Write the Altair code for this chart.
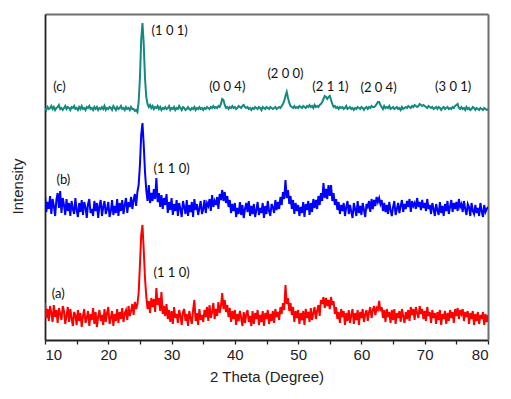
import altair as alt
import pandas as pd

# 2-theta sampling grid: 10.0 .. 80.0, step 0.2
THETA_START = 10.0
THETA_STEP = 0.2

# (c) teal trace, intensity (arbitrary units)
c_vals = [
    232, 230, 233, 231, 232,  234, 231, 233, 230, 232,  233, 235, 231, 232, 230,
    232, 234, 231, 233, 232,  230, 233, 232, 234, 231,  232, 230, 233, 231, 234,
    231, 232, 230, 233, 232,  234, 231, 232, 230, 233,  231, 233, 230, 232, 231,
    233, 231, 234, 230, 232,  231, 233, 232, 230, 234,  232, 230, 233, 231, 232,
    234, 231, 232, 230, 233,  231, 232, 230, 233, 231,  231, 229, 230, 228, 238,
    262, 300, 317, 296, 262,  243, 236, 233, 235, 232,  234, 231, 233, 232, 234,
    231, 233, 230, 232, 231,  233, 231, 232, 234, 230,  232, 231, 233, 230, 232,
    231, 234, 232, 230, 233,  232, 230, 231, 233, 231,  230, 232, 231, 233, 230,
    232, 231, 233, 231, 232,  230, 232, 231, 233, 232,  231, 233, 232, 234, 232,
    233, 232, 234, 233, 236,  241, 240, 235, 232, 233,  231, 233, 232, 234, 232,
    233, 231, 232, 234, 233,  232, 234, 235, 233, 232,  233, 231, 232, 230, 232,
    231, 233, 232, 231, 233,  232, 230, 233, 232, 231,  233, 232, 231, 233, 232,
    231, 232, 233, 231, 232,  233, 232, 234, 236, 239,  244, 248, 242, 237, 234,
    233, 232, 234, 232, 233,  232, 234, 233, 232, 234,  233, 232, 234, 233, 235,
    233, 234, 232, 235, 233,  234, 233, 235, 236, 238,  241, 244, 243, 241, 243,
    244, 240, 236, 233, 234,  232, 233, 231, 233, 232,  233, 231, 232, 234, 231,
    232, 233, 231, 232, 230,  232, 231, 233, 232, 231,  233, 232, 230, 232, 233,
    231, 233, 232, 234, 233,  233, 234, 236, 238, 238,  235, 233, 231, 234, 232,
    233, 232, 234, 231, 232,  233, 231, 232, 233, 231,  232, 230, 233, 231, 232,
    233, 232, 234, 233, 232,  234, 233, 235, 234, 233,  234, 236, 235, 234, 235,
    234, 233, 232, 234, 233,  232, 233, 231, 232, 233,  231, 233, 232, 230, 232,
    233, 231, 232, 233, 231,  232, 231, 233, 232, 234,  235, 236, 232, 231, 233,
    231, 232, 230, 233, 231,  232, 230, 231, 233, 232,  230, 232, 231, 230, 232,
    231, 230, 232, 231, 230,  231,
]

# (b) blue trace
b_vals = [
    145, 128, 138, 131, 144,  126, 141, 134, 124, 140,  147, 132, 149, 127, 142,
    135, 125, 141, 129, 137,  124, 139, 131, 126, 142,  130, 123, 137, 128, 140,
    125, 138, 133, 122, 136,  141, 127, 131, 124, 139,  129, 137, 122, 134, 140,
    124, 133, 139, 126, 131,  138, 123, 129, 140, 125,  134, 127, 141, 124, 137,
    129, 140, 126, 135, 142,  127, 138, 133, 143, 131,  140, 146, 134, 148, 155,
    175, 205, 217, 195, 168,  150, 139, 155, 137, 147,  139, 151, 141, 162, 138,
    147, 133, 145, 131, 142,  135, 146, 127, 138, 130,  142, 125, 136, 129, 140,
    124, 137, 131, 123, 139,  133, 126, 140, 124, 135,  128, 138, 123, 141, 130,
    136, 125, 132, 139, 126,  131, 140, 127, 137, 134,  141, 129, 145, 133, 139,
    135, 143, 131, 146, 140,  150, 139, 148, 137, 144,  133, 140, 127, 136, 129,
    137, 123, 132, 126, 138,  125, 135, 122, 131, 137,  128, 139, 124, 134, 126,
    136, 123, 130, 138, 125,  132, 127, 137, 122, 134,  126, 139, 129, 124, 136,
    133, 127, 140, 130, 138,  131, 143, 135, 148, 141,  160, 142, 150, 136, 144,
    131, 140, 126, 137, 129,  135, 124, 133, 127, 138,  123, 136, 130, 139, 125,
    137, 128, 141, 132, 140,  131, 144, 135, 147, 139,  157, 142, 151, 141, 155,
    144, 155, 139, 147, 135,  141, 130, 138, 126, 135,  129, 137, 124, 133, 139,
    126, 135, 128, 122, 137,  131, 124, 139, 127, 134,  125, 137, 130, 123, 136,
    133, 139, 128, 141, 131,  140, 134, 143, 138, 142,  136, 140, 129, 137, 128,
    135, 126, 138, 130, 124,  133, 139, 125, 131, 137,  127, 134, 140, 128, 136,
    131, 139, 133, 141, 128,  139, 134, 137, 131, 142,  133, 138, 130, 140, 132,
    137, 129, 141, 131, 135,  126, 137, 131, 124, 136,  130, 125, 138, 127, 134,
    124, 136, 129, 139, 126,  133, 140, 128, 137, 131,  138, 129, 141, 133, 136,
    128, 139, 131, 125, 136,  133, 124, 137, 129, 126,  135, 127, 132, 124, 137,
    129, 123, 135, 128, 131,  133,
]

# (a) red trace
a_vals = [
    37, 22, 31, 19, 34,  27, 18, 35, 23, 30,  17, 32, 26, 20, 34,
    29, 16, 24, 33, 18,  31, 22, 14, 28, 25,  15, 30, 19, 27, 13,
    24, 31, 17, 22, 29,  14, 26, 20, 32, 16,  28, 13, 23, 30, 19,
    25, 15, 31, 18, 27,  33, 16, 22, 29, 14,  26, 19, 31, 17, 28,
    21, 32, 18, 27, 30,  20, 34, 24, 29, 36,  25, 38, 31, 36, 47,
    75, 105, 115, 90, 62,  44, 31, 39, 27, 42,  33, 41, 28, 52, 35,
    42, 29, 48, 26, 34,  24, 36, 21, 30, 18,  29, 16, 33, 22, 26,
    17, 30, 24, 15, 28,  31, 19, 26, 14, 29,  22, 16, 30, 40, 19,
    27, 15, 31, 20, 25,  18, 30, 23, 33, 19,  35, 22, 28, 37, 21,
    31, 24, 38, 27, 34,  47, 31, 40, 28, 35,  23, 32, 18, 29, 21,
    30, 15, 26, 19, 29,  22, 14, 28, 17, 26,  30, 18, 24, 14, 29,
    16, 27, 21, 30, 15,  25, 18, 29, 14, 27,  21, 30, 16, 26, 19,
    29, 17, 31, 23, 28,  20, 33, 26, 37, 30,  55, 36, 42, 29, 37,
    25, 33, 18, 29, 22,  30, 16, 27, 20, 29,  15, 31, 22, 28, 18,
    32, 20, 27, 33, 21,  29, 35, 24, 40, 36,  43, 32, 42, 34, 40,
    31, 43, 35, 39, 26,  33, 21, 28, 17, 31,  23, 29, 15, 27, 19,
    30, 17, 25, 31, 16,  27, 20, 30, 15, 28,  22, 31, 18, 26, 30,
    19, 28, 33, 22, 30,  34, 25, 32, 30, 39,  29, 33, 22, 30, 18,
    31, 23, 28, 17, 30,  20, 31, 16, 27, 22,  29, 18, 31, 24, 17,
    28, 21, 30, 19, 33,  25, 31, 20, 33, 27,  22, 34, 26, 31, 21,
    29, 19, 33, 24, 28,  17, 30, 22, 27, 16,  28, 20, 30, 15, 26,
    21, 29, 16, 27, 19,  30, 22, 28, 17, 31,  24, 32, 21, 30, 26,
    31, 19, 28, 23, 29,  16, 27, 21, 29, 15,  26, 19, 28, 16, 25,
    21, 28, 15, 26, 18,  25,
]

series_names = ["c", "b", "a"]
series_colors = ["#13897f", "#0000ff", "#ff0000"]

# annotations
ann_text = ["(c)", "(1 0 1)", "(0 0 4)", "(2 0 0)", "(2 1 1)", "(2 0 4)", "(3 0 1)",
            "(b)", "(1 1 0)", "(a)", "(1 1 0)"]
ann_x = [12.3, 29.7, 38.8, 48.0, 55.1, 62.7, 74.5, 12.9, 30.0, 12.1, 30.0]
ann_y = [253, 309, 253, 266, 253, 252, 253, 160, 171, 46, 67]

x_ticks = [10, 15, 20, 25, 30, 35, 40, 45, 50, 55, 60, 65, 70, 75, 80]
X_DOMAIN = [10, 80]
Y_DOMAIN = [0, 326]

W, H = 443, 326

rows = []
for name, vals in zip(series_names, [c_vals, b_vals, a_vals]):
    for i, v in enumerate(vals):
        rows.append({"theta": round(THETA_START + THETA_STEP * i, 1), "intensity": v, "series": name})
df = pd.DataFrame(rows)
ann = pd.DataFrame({"label": ann_text, "theta": ann_x, "intensity": ann_y})

xscale = alt.Scale(domain=X_DOMAIN, nice=False, zero=False)
yscale = alt.Scale(domain=Y_DOMAIN, nice=False, zero=False)

lines = alt.Chart(df).mark_line(strokeWidth=2.0, clip=True).encode(
    x=alt.X("theta:Q", scale=xscale,
            axis=alt.Axis(title="2 Theta (Degree)", values=x_ticks,
                          labelExpr="datum.value % 10 == 0 ? datum.label : ''",
                          grid=False, tickSize=4, tickColor="#222", tickWidth=1.3,
                          domainColor="#222", domainWidth=1.8,
                          labelFont="Liberation Sans", labelFontSize=15, labelColor="#222",
                          labelPadding=3, titleFont="Liberation Sans", titleFontSize=15,
                          titleFontWeight="normal", titleColor="#222", titlePadding=7)),
    y=alt.Y("intensity:Q", scale=yscale,
            axis=alt.Axis(title="Intensity", labels=False, ticks=False, grid=False,
                          domainColor="#222", domainWidth=1.8,
                          titleFont="Liberation Sans", titleFontSize=15,
                          titleFontWeight="normal", titleColor="#222",
                          titleAngle=270, titleAlign="center", titleBaseline="middle",
                          titleX=-28, titleY=172)),
    color=alt.Color("series:N", scale=alt.Scale(domain=series_names, range=series_colors), legend=None),
    detail="series:N",
)

labels = alt.Chart(ann).mark_text(font="Lato", fontSize=13, color="#111",
                                  align="center", baseline="middle").encode(
    x=alt.X("theta:Q", scale=xscale, axis=None),
    y=alt.Y("intensity:Q", scale=yscale, axis=None),
    text="label:N",
)

# invisible layer that only carries the gray top and right frame axes
frame = alt.Chart(ann).mark_point(opacity=0).encode(
    x=alt.X("theta:Q", scale=xscale,
            axis=alt.Axis(orient="top", title=None, labels=False, ticks=False, grid=False,
                          domainColor="#6f6f6f", domainWidth=2)),
    y=alt.Y("intensity:Q", scale=yscale,
            axis=alt.Axis(orient="right", title=None, labels=False, ticks=False, grid=False,
                          domainColor="#6f6f6f", domainWidth=2)),
)

chart = alt.layer(lines, labels, frame).resolve_axis(x="independent", y="independent").properties(
    width=W, height=H,
    background="white",
    autosize=alt.AutoSizeParams(type="none"),
    padding={"left": 37, "top": 6, "right": 15, "bottom": 45},
).configure_view(strokeWidth=0)

chart.save("out.html", embed_options={"renderer": "svg", "actions": False})
